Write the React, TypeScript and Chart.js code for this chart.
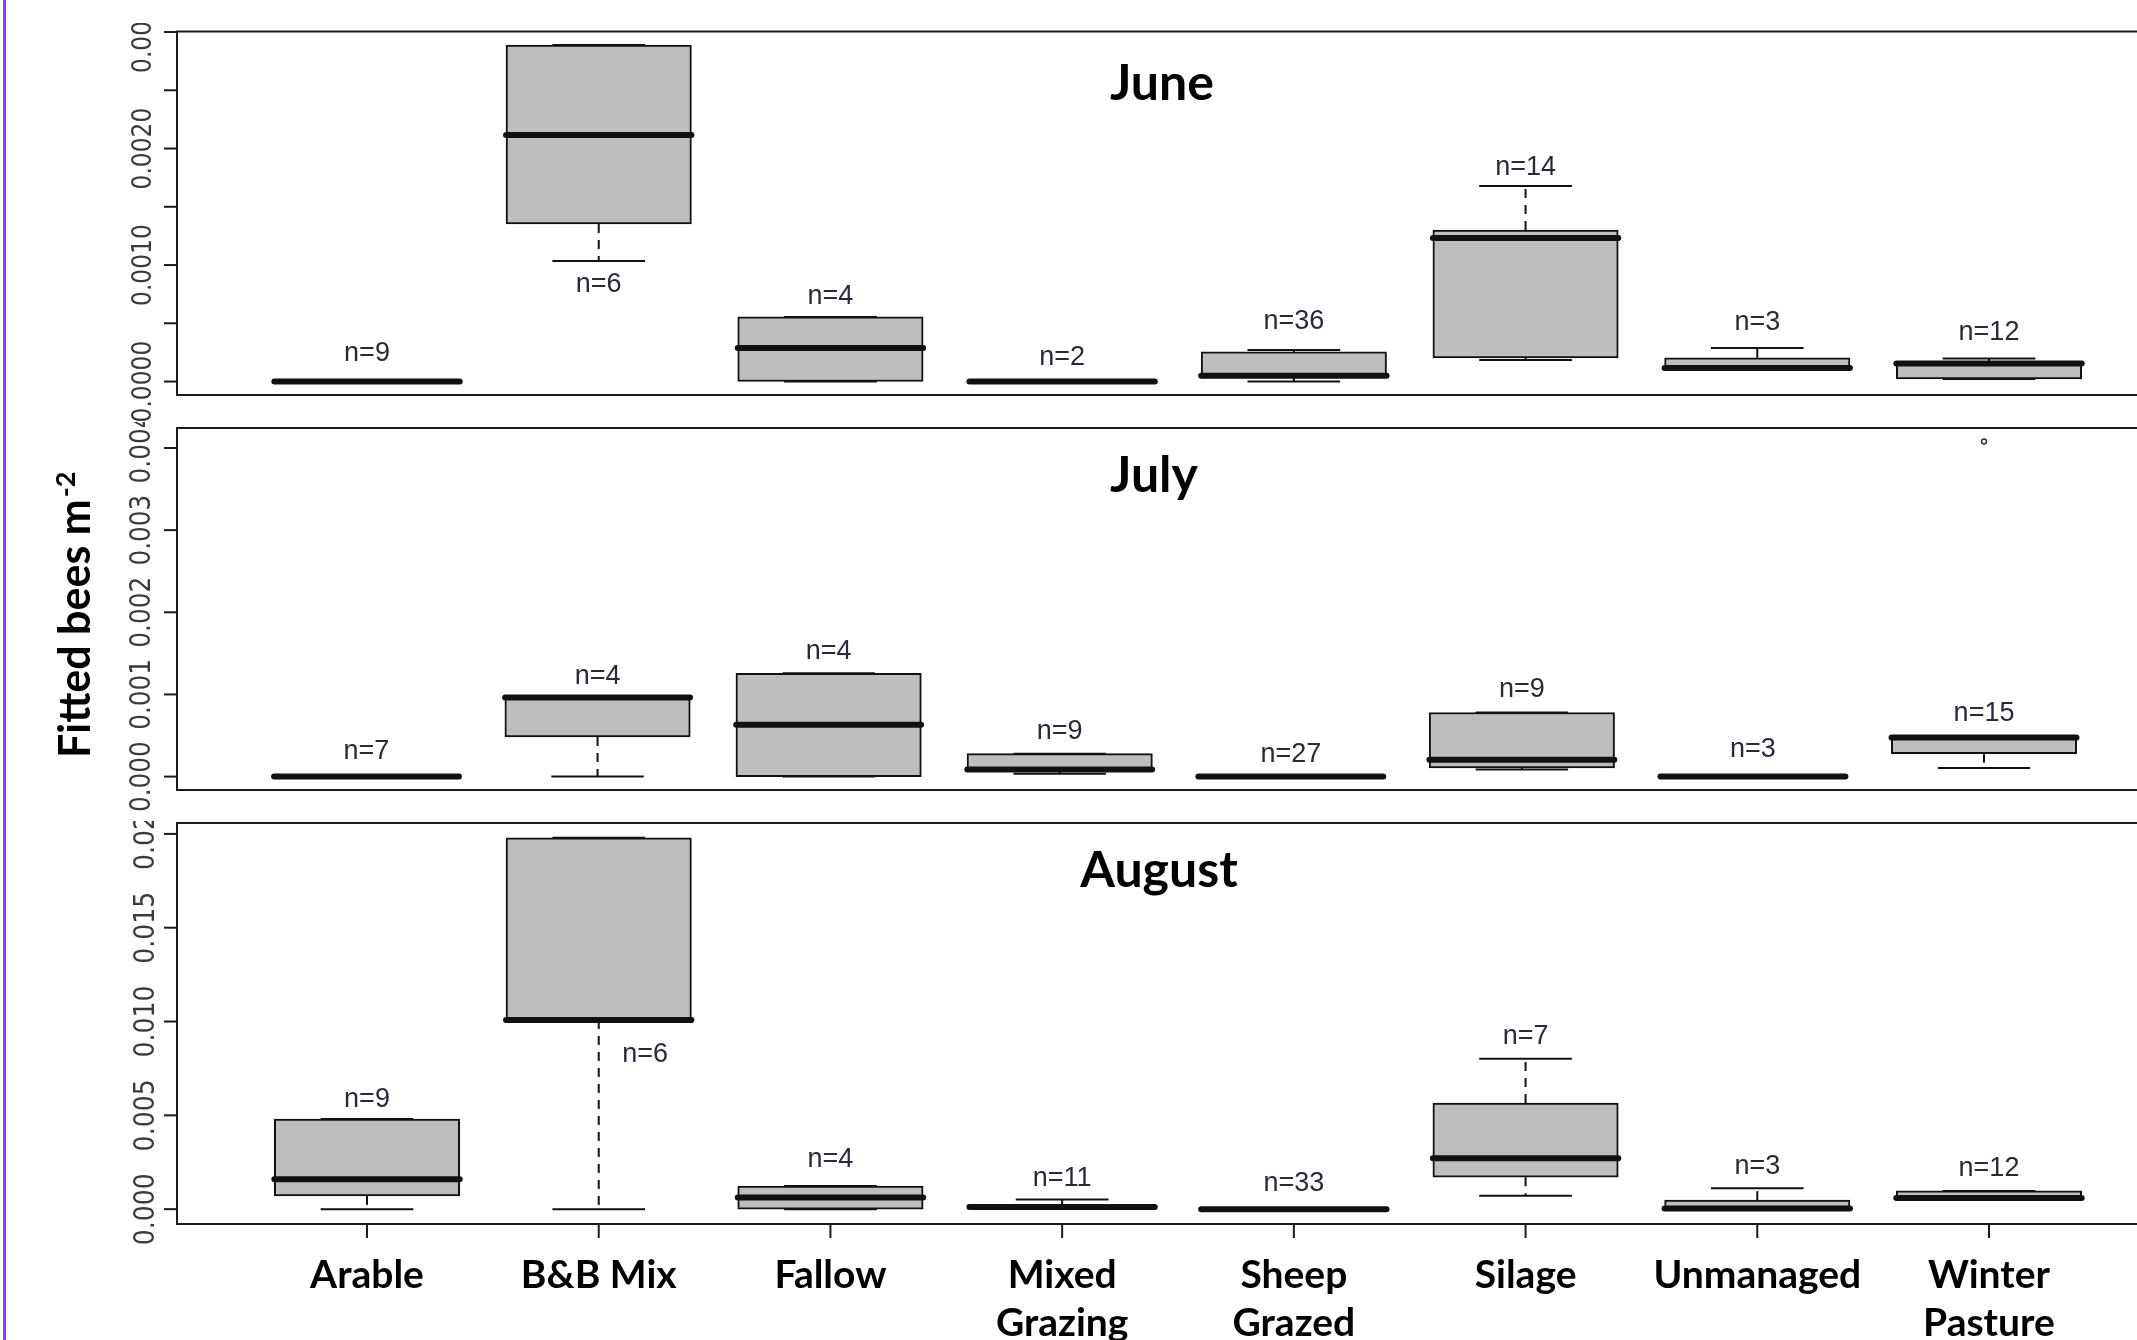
import React, { useEffect, useRef } from "react";
import { Chart, registerables } from "chart.js";

Chart.register(...registerables);

// ---------- categories ----------
const categories = ["Arable", "B&B Mix", "Fallow", "Mixed Grazing", "Sheep Grazed", "Silage", "Unmanaged", "Winter Pasture"];
const categoryLines = [["Arable"], ["B&B Mix"], ["Fallow"], ["Mixed", "Grazing"], ["Sheep", "Grazed"], ["Silage"], ["Unmanaged"], ["Winter", "Pasture"]];

// ---------- June ----------
const juneLower = [0, 0.001035, 0, 0, 0, 0.000185, 0.00011, 0.000022];
const juneQ1 = [0, 0.001353, 0, 0, 0.00005, 0.000203, 0.00011, 0.000022];
const juneMedian = [0, 0.002117, 0.000288, 0, 0.00005, 0.001233, 0.000117, 0.000155];
const juneQ3 = [0, 0.002889, 0.000555, 0, 0.000254, 0.001301, 0.000203, 0.000168];
const juneUpper = [0, 0.002889, 0.000555, 0, 0.00027, 0.001679, 0.000288, 0.000198];
const juneN = [9, 6, 4, 2, 36, 14, 3, 12];
const juneLabelAt = [0.000237, 0.00083, 0.000726, 0.000203, 0.000511, 0.001834, 0.000503, 0.000417];
const juneLabelX = [0, 1, 2, 3, 4, 5, 6, 7];
const juneOutlierCat: number[] = [];
const juneOutlierValue: number[] = [];
const juneTicks = [0, 0.0005, 0.001, 0.0015, 0.002, 0.0025, 0.003];
const juneTickLabels = ["0.0000", "", "0.0010", "", "0.0020", "", "0.0030"];

// ---------- July ----------
const julyLower = [0, 0, 0, 0.000036, 0, 0.000085, 0, 0.000106];
const julyQ1 = [0, 0.000482, 0, 0.000085, 0, 0.000106, 0, 0.000279];
const julyMedian = [0, 0.000962, 0.000631, 0.000085, 0, 0.000206, 0, 0.000477];
const julyQ3 = [0, 0.000962, 0.001258, 0.000279, 0, 0.00078, 0, 0.000477];
const julyUpper = [0, 0.000962, 0.001258, 0.000279, 0, 0.00078, 0, 0.000477];
const julyN = [7, 4, 4, 9, 27, 9, 3, 15];
const julyLabelAt = [0.000307, 0.001223, 0.001526, 0.00055, 0.000267, 0.001056, 0.000328, 0.000773];
const julyLabelX = [0, 1, 2, 3, 4, 5, 6, 7];
const julyOutlierCat = [7];
const julyOutlierValue = [0.00408];
const julyTicks = [0, 0.001, 0.002, 0.003, 0.004];
const julyTickLabels = ["0.000", "0.001", "0.002", "0.003", "0.004"];

// ---------- August ----------
const augLower = [0, 0, 0, 0.00012, 0, 0.00071, 0, 0.00051];
const augQ1 = [0.00071, 0.01008, 0, 0.00005, 0, 0.0017, 0, 0.00051];
const augMedian = [0.00159, 0.01008, 0.000626, 0.00012, 0, 0.00271, 0.00003, 0.00059];
const augQ3 = [0.0048, 0.01979, 0.00123, 0.0002, 0, 0.00566, 0.00048, 0.00097];
const augUpper = [0.0048, 0.01979, 0.00123, 0.00052, 0, 0.00801, 0.00111, 0.00097];
const augN = [9, 6, 4, 11, 33, 7, 3, 12];
const augLabelAt = [0.00584, 0.00824, 0.00262, 0.00164, 0.00138, 0.00922, 0.00226, 0.00217];
const augLabelX = [0, 1.2, 2, 3, 4, 5, 6, 7];
const augOutlierCat: number[] = [];
const augOutlierValue: number[] = [];
const augTicks = [0, 0.005, 0.01, 0.015, 0.02];
const augTickLabels = ["0.000", "0.005", "0.010", "0.015", "0.020"];

// ---------- layout / style ----------
const VIEW_W = 2137;
const CANVAS_W = 2179;
const PLOT_LEFT = 177;
const N_CAT = categories.length;
const X_MIN = 1 - 0.5 - 0.04 * N_CAT - 1; // R boxplot x-range, 0-based
const X_MAX = N_CAT + 0.5 + 0.04 * N_CAT - 1;
const BOX_WIDTH_PX = 0.8 * ((CANVAS_W - PLOT_LEFT) / (X_MAX - X_MIN));

const NARROW = '"Liberation Sans Narrow", "Arial Narrow", "DejaVu Sans Condensed", sans-serif';
const SANS = '"Liberation Sans", Arial, sans-serif';
const BOLD = 'Lato, "Open Sans", sans-serif';

interface PanelDef {
  key: string;
  title: string;
  lower: number[];
  q1: number[];
  median: number[];
  q3: number[];
  upper: number[];
  n: number[];
  labelAt: number[];
  labelX: number[];
  outlierCat: number[];
  outlierValue: number[];
  ticks: number[];
  tickLabels: string[];
  top: number;
  height: number;
  padTop: number;
  padBottom: number;
  tickFontPx: number;
  tickLabelX: number;
  titleX: number;
  titleBaseline: number;
  showYTitle: boolean;
  showXAxis: boolean;
}

const panels: PanelDef[] = [
  {
    key: "june", title: "June",
    lower: juneLower, q1: juneQ1, median: juneMedian, q3: juneQ3, upper: juneUpper,
    n: juneN, labelAt: juneLabelAt, labelX: juneLabelX,
    outlierCat: juneOutlierCat, outlierValue: juneOutlierValue,
    ticks: juneTicks, tickLabels: juneTickLabels,
    top: 23, height: 404, padTop: 8.5, padBottom: 32,
    tickFontPx: 26, tickLabelX: 144, titleX: 1162, titleBaseline: 100,
    showYTitle: false, showXAxis: false,
  },
  {
    key: "july", title: "July",
    lower: julyLower, q1: julyQ1, median: julyMedian, q3: julyQ3, upper: julyUpper,
    n: julyN, labelAt: julyLabelAt, labelX: julyLabelX,
    outlierCat: julyOutlierCat, outlierValue: julyOutlierValue,
    ticks: julyTicks, tickLabels: julyTickLabels,
    top: 422, height: 399, padTop: 6, padBottom: 31,
    tickFontPx: 27.5, tickLabelX: 143, titleX: 1154, titleBaseline: 492,
    showYTitle: true, showXAxis: false,
  },
  {
    key: "august", title: "August",
    lower: augLower, q1: augQ1, median: augMedian, q3: augQ3, upper: augUpper,
    n: augN, labelAt: augLabelAt, labelX: augLabelX,
    outlierCat: augOutlierCat, outlierValue: augOutlierValue,
    ticks: augTicks, tickLabels: augTickLabels,
    top: 821, height: 519, padTop: 2, padBottom: 116,
    tickFontPx: 28, tickLabelX: 147, titleX: 1159, titleBaseline: 887,
    showYTitle: false, showXAxis: true,
  },
];

function line(ctx: CanvasRenderingContext2D, x1: number, y1: number, x2: number, y2: number) {
  ctx.beginPath();
  ctx.moveTo(x1, y1);
  ctx.lineTo(x2, y2);
  ctx.stroke();
}

function makePlugin(p: PanelDef) {
  return {
    id: "boxExtras_" + p.key,
    afterDatasetsDraw(chart: any) {
      const ctx: CanvasRenderingContext2D = chart.ctx;
      const xs = chart.scales.x;
      const ys = chart.scales.y;
      const boxW = 0.8 * (xs.getPixelForValue(1) - xs.getPixelForValue(0));
      const capHalf = boxW / 4;
      ctx.save();
      ctx.strokeStyle = "#111";
      for (let i = 0; i < N_CAT; i++) {
        const x = xs.getPixelForValue(i);
        const yLo = ys.getPixelForValue(p.lower[i]);
        const yQ1 = ys.getPixelForValue(p.q1[i]);
        const yMed = ys.getPixelForValue(p.median[i]);
        const yQ3 = ys.getPixelForValue(p.q3[i]);
        const yUp = ys.getPixelForValue(p.upper[i]);
        ctx.lineCap = "butt";
        ctx.lineWidth = 2;
        ctx.setLineDash([9, 7]);
        if (p.upper[i] > p.q3[i]) line(ctx, x, yQ3, x, yUp);
        if (p.lower[i] < p.q1[i]) line(ctx, x, yQ1, x, yLo);
        ctx.setLineDash([]);
        line(ctx, x - capHalf, yUp, x + capHalf, yUp);
        line(ctx, x - capHalf, yLo, x + capHalf, yLo);
        ctx.lineWidth = 6;
        ctx.lineCap = "round";
        line(ctx, x - boxW / 2, yMed, x + boxW / 2, yMed);
      }
      ctx.restore();
    },
    afterDraw(chart: any) {
      const ctx: CanvasRenderingContext2D = chart.ctx;
      const xs = chart.scales.x;
      const ys = chart.scales.y;
      const ca = chart.chartArea;
      ctx.save();
      // frame
      ctx.strokeStyle = "#1a1a1a";
      ctx.lineWidth = 2;
      ctx.strokeRect(ca.left, ca.top, ca.right - ca.left, ca.bottom - ca.top);
      // y axis ticks and labels
      ctx.lineWidth = 2;
      line(ctx, ca.left, ys.getPixelForValue(p.ticks[0]), ca.left, ys.getPixelForValue(p.ticks[p.ticks.length - 1]));
      ctx.fillStyle = "#3a3a3a";
      ctx.font = `${p.tickFontPx}px ${NARROW}`;
      ctx.textAlign = "center";
      ctx.textBaseline = "middle";
      p.ticks.forEach((t, k) => {
        const y = ys.getPixelForValue(t);
        ctx.strokeStyle = "#1a1a1a";
        line(ctx, ca.left - 13, y, ca.left, y);
        const lab = p.tickLabels[k];
        if (lab) {
          ctx.save();
          ctx.translate(p.tickLabelX, y);
          ctx.rotate(-Math.PI / 2);
          ctx.fillText(lab, 0, 0);
          ctx.restore();
        }
      });
      // n labels
      ctx.fillStyle = "#2d2838";
      ctx.font = `27px ${SANS}`;
      ctx.textAlign = "center";
      ctx.textBaseline = "middle";
      for (let i = 0; i < N_CAT; i++) {
        ctx.fillText("n=" + p.n[i], xs.getPixelForValue(p.labelX[i]), ys.getPixelForValue(p.labelAt[i]));
      }
      // title
      ctx.fillStyle = "#000";
      ctx.font = `bold 50px ${BOLD}`;
      ctx.textBaseline = "alphabetic";
      ctx.fillText(p.title, p.titleX, p.titleBaseline - p.top);
      // x axis
      if (p.showXAxis) {
        ctx.strokeStyle = "#1a1a1a";
        ctx.lineWidth = 2;
        line(ctx, xs.getPixelForValue(0), ca.bottom, xs.getPixelForValue(N_CAT - 1), ca.bottom);
        ctx.font = `bold 39px ${BOLD}`;
        ctx.fillStyle = "#000";
        ctx.textAlign = "center";
        for (let i = 0; i < N_CAT; i++) {
          const x = xs.getPixelForValue(i);
          line(ctx, x, ca.bottom, x, ca.bottom + 14);
          categoryLines[i].forEach((s, j) => {
            ctx.fillText(s, x, ca.bottom + 64 + j * 48);
          });
        }
      }
      // y title
      if (p.showYTitle) {
        ctx.save();
        ctx.translate(90, 758 - p.top);
        ctx.rotate(-Math.PI / 2);
        ctx.fillStyle = "#000";
        ctx.textAlign = "left";
        ctx.textBaseline = "alphabetic";
        ctx.font = `bold 43px ${BOLD}`;
        const main = "Fitted bees m";
        ctx.fillText(main, 0, 0);
        const w = ctx.measureText(main).width;
        ctx.font = `bold 27px ${BOLD}`;
        ctx.fillText("-2", w + 2, -15);
        ctx.restore();
      }
      ctx.restore();
    },
  };
}

function buildConfig(p: PanelDef): any {
  const all = [...p.upper, ...p.q3, ...p.outlierValue];
  const maxV = Math.max(...all);
  const yMin = -0.04 * maxV;
  const yMax = 1.04 * maxV;
  return {
    type: "bar",
    data: {
      datasets: [
        {
          type: "bar",
          data: categories.map((_, i) => ({ x: i, y: [p.q1[i], p.q3[i]] })),
          backgroundColor: "#bebebe",
          borderColor: "#111",
          borderWidth: 2,
          borderSkipped: false,
          barThickness: BOX_WIDTH_PX,
        },
        {
          type: "scatter",
          data: p.outlierCat.map((c, k) => ({ x: c, y: p.outlierValue[k] })),
          pointStyle: "circle",
          pointRadius: 2.5,
          borderColor: "#333",
          backgroundColor: "rgba(0,0,0,0)",
          borderWidth: 1.5,
        },
      ],
    },
    options: {
      responsive: false,
      maintainAspectRatio: false,
      animation: false,
      events: [],
      layout: { padding: { left: PLOT_LEFT, right: 0, top: p.padTop, bottom: p.padBottom } },
      plugins: { legend: { display: false }, tooltip: { enabled: false } },
      scales: {
        x: { type: "linear", min: X_MIN, max: X_MAX, display: false, offset: false },
        y: { type: "linear", min: yMin, max: yMax, display: false },
      },
    },
    plugins: [makePlugin(p)],
  };
}

function PanelChart({ panel }: { panel: PanelDef }) {
  const ref = useRef<HTMLCanvasElement>(null);
  useEffect(() => {
    if (!ref.current) return;
    const chart = new Chart(ref.current, buildConfig(panel));
    return () => chart.destroy();
  }, [panel]);
  return (
    <canvas
      ref={ref}
      width={CANVAS_W}
      height={panel.height}
      style={{ position: "absolute", left: 0, top: panel.top, width: CANVAS_W, height: panel.height, display: "block" }}
    />
  );
}

export default function App() {
  return (
    <div
      style={{
        position: "fixed",
        left: 0,
        top: 0,
        width: VIEW_W,
        height: 1340,
        overflow: "hidden",
        background: "#fff",
      }}
    >
      {panels.map((p) => (
        <PanelChart key={p.key} panel={p} />
      ))}
      <div style={{ position: "absolute", left: 3, top: 0, width: 3, height: 1340, background: "#7f3fff" }} />
    </div>
  );
}
